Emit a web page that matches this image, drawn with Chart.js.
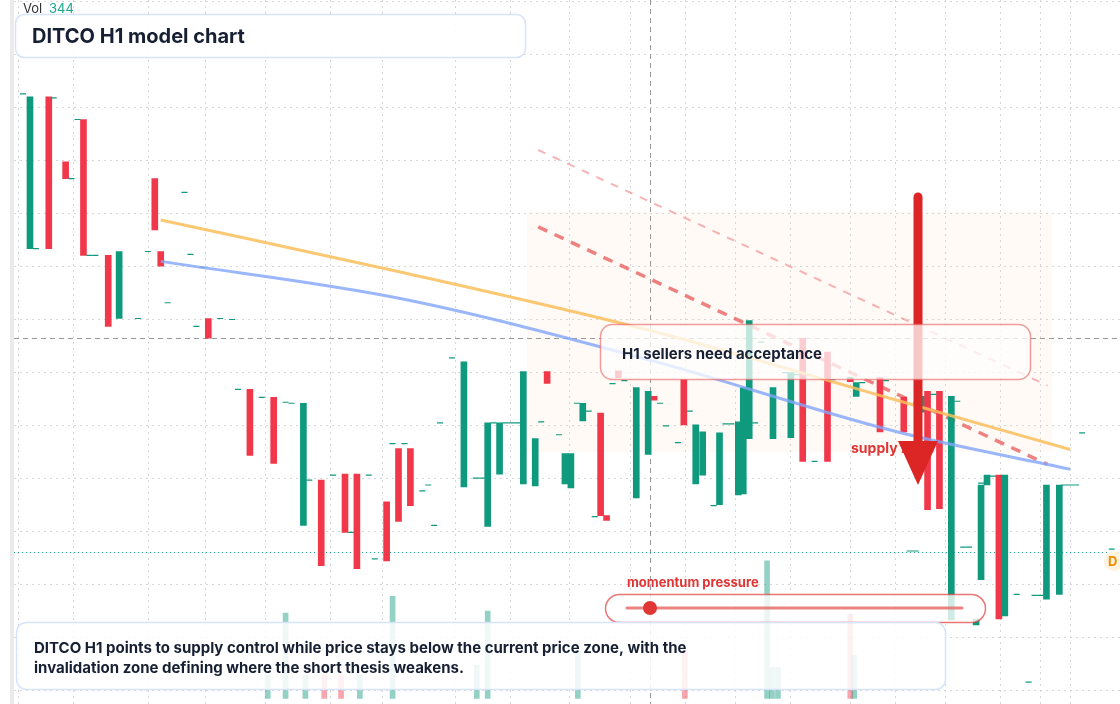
<!DOCTYPE html>
<html><head><meta charset="utf-8">
<script src="https://cdn.jsdelivr.net/npm/chart.js@4.4.0/dist/chart.umd.min.js"></script>
<style>html,body{margin:0;padding:0;background:#fff;overflow:hidden}#w{position:relative;width:1120px;height:704px}</style>
</head><body><div id="w"><canvas id="c" width="1120" height="704"></canvas></div>
<script>
// candle positions (x in bar slots, open/close in chart units, top-down)
const candleX = [25,44,61,79,104,115,151,157,205,247,271,301,319,343,355,385,397,409,463,487,499,523,535,547,565,571,583,601,607,619,637,649,655,685,697,704,721,740,745,751,775,793,805,830,853,859,883,907,925,931,943,955,980,985,991,1003,1009,1051,1064];
const candleOpen = [247,93,159,116,254,318,176,250,318,390,398,528,482,476,476,504,450,450,489,529,476,486,488,372,486,490,422,414,518,371,500,456,397,380,486,477,507,497,496,440,440,439,338,352,378,397,378,398,413,392,392,624,629,583,487,477,620,603,598];
const candleClose = [93,247,176,254,326,250,228,265,338,457,465,404,569,535,572,564,524,508,362,424,424,372,440,384,455,455,404,518,523,378,388,392,401,426,426,433,434,423,388,320,388,373,463,463,382,383,433,433,397,512,511,397,623,487,477,623,477,487,487];
const tickX = [18,31,49,67,73,85,91,134,144,164,181,187,193,199,217,229,235,259,283,289,307,331,349,367,373,391,403,421,427,433,439,451,475,481,493,505,511,517,541,559,577,589,595,613,625,661,667,679,691,715,727,733,757,763,787,799,811,817,835,853,865,889,913,919,937,961,967,973,985,997,1021,1039,1045,1033,1069,1075,1081,1087,1117];
const tickY = [90,247,94,176,116,254,254,318,250,302,190,253,326,266,318,319,390,398,403,404,482,477,535,477,562,445,445,493,487,528,424,358,480,480,424,424,424,424,423,436,404,412,519,384,381,404,427,444,412,508,425,425,424,342,373,375,375,463,380,378,383,381,554,554,395,402,550,550,485,478,598,599,599,687,487,487,487,434,552];
const volX = [265,283,303,322,339,358,391,476,487,578,686,769,774,780,853,857];
const volTop = [680,617,680,680,680,680,600,670,615,655,655,564,672,672,618,660];
const volUp = [1,1,1,0,0,1,1,1,1,1,0,1,1,1,0,1];
const orangeLine = [[157,218],[400,271],[650,330],[900,401],[1075,451]];
const blueLine = [[157,260],[400,298],[650,360],[900,433],[1075,471]];
const dashA = [[538,147],[1052,386]];
const dashB = [[538,225],[1052,466]];

const GREEN='#0f9a7e', RED='#f0384a';
const candles = candleX.map((x,i)=>({x, y:[candleOpen[i],candleClose[i]]}));
const candleCol = candleX.map((x,i)=> candleClose[i] < candleOpen[i] ? GREEN : RED);
const vols = volX.map((x,i)=>({x, y:[volTop[i],704]}));
const xy = a => a.map(p=>({x:p[0],y:p[1]}));

function rr(ctx,x,y,w,h,r){ctx.beginPath();ctx.roundRect(x,y,w,h,r);}
const bg = {id:'bg', beforeDatasetsDraw(ch){
  const c=ch.ctx; c.save();
  c.fillStyle='#ebebeb'; c.fillRect(10,0,4,704);
  c.fillStyle='rgba(255,236,220,0.25)'; c.fillRect(527,212,525,240);
  c.strokeStyle='#d6d6d6'; c.setLineDash([2,4]); c.lineWidth=1;
  [18,73,148,205,265,330,382,455,510,569,630,685,735,790,850,895,945,1000,1040,1070].forEach(x=>{c.beginPath();c.moveTo(x+.5,0);c.lineTo(x+.5,704);c.stroke();});
  for(let y=1;y<704;y+=53){c.beginPath();c.moveTo(14,y+.5);c.lineTo(1120,y+.5);c.stroke();}
  c.strokeStyle='#999'; c.setLineDash([5,4]);
  c.beginPath();c.moveTo(14,338.5);c.lineTo(1120,338.5);c.stroke();
  c.beginPath();c.moveTo(650.5,0);c.lineTo(650.5,704);c.stroke();
  c.strokeStyle='#18a890'; c.setLineDash([1,3]);
  c.beginPath();c.moveTo(14,552.5);c.lineTo(1120,552.5);c.stroke();
  c.restore();
}, afterDatasetsDraw(ch){
  const c=ch.ctx; c.save(); c.setLineDash([]);
  c.font='bold 14px Inter, "DejaVu Sans", sans-serif'; c.fillStyle='#e03636';
  c.fillText('supply zone',851,453);
  // arrow
  c.strokeStyle='#dc2626'; c.lineWidth=9; c.lineCap='round';
  c.beginPath();c.moveTo(918,197);c.lineTo(918,445);c.stroke();
  c.fillStyle='#dc2626'; c.beginPath();c.moveTo(898,441);c.lineTo(938,441);c.lineTo(918,485);c.closePath();c.fill();
  // title box
  c.lineWidth=1.5; c.strokeStyle='#d6e4fb'; c.fillStyle='rgba(255,255,255,0.92)';
  rr(c,15.5,14.5,510,43,9); c.fill(); c.stroke();
  c.fillStyle='#172033'; c.font='bold 20px Inter, "DejaVu Sans", sans-serif'; c.fillText('DITCO H1 model chart',32,43);
  c.font='13px Inter, "DejaVu Sans", sans-serif'; c.fillStyle='#333'; c.fillText('Vol',23,13); c.fillStyle='#18a890'; c.fillText('344',49,13);
  // sellers box
  c.strokeStyle='rgba(232,90,90,0.6)'; c.fillStyle='rgba(255,255,255,0.75)';
  rr(c,600.5,324.5,430,55,12); c.fill(); c.stroke();
  c.fillStyle='#172033'; c.font='bold 15px Inter, "DejaVu Sans", sans-serif'; c.fillText('H1 sellers need acceptance',622,359);
  // momentum
  c.fillStyle='#e03636'; c.font='bold 13px Inter, "DejaVu Sans", sans-serif'; c.fillText('momentum pressure',627,587);
  c.strokeStyle='rgba(224,60,60,0.7)'; c.fillStyle='rgba(255,255,255,0.8)';
  rr(c,605.5,594.5,380,28,14); c.fill(); c.stroke();
  c.strokeStyle='rgba(230,100,100,0.8)'; c.lineWidth=3; c.beginPath();c.moveTo(627,608);c.lineTo(962,608);c.stroke();
  c.fillStyle='#e03636'; c.beginPath();c.arc(650,608,7,0,7);c.fill();
  // bottom box
  c.lineWidth=1.5; c.strokeStyle='#d6e4fb'; c.fillStyle='rgba(255,255,255,0.85)';
  rr(c,16.5,622.5,929,67,10); c.fill(); c.stroke();
  c.fillStyle='#172033'; c.font='bold 15px Inter, "DejaVu Sans", sans-serif';
  c.fillText('DITCO H1 points to supply control while price stays below the current price zone, with the',34,653);
  c.fillText('invalidation zone defining where the short thesis weakens.',34,673);
  // D badge
  c.fillStyle='#fff3e0'; c.beginPath();c.arc(1114,561,10,0,7);c.fill();
  c.fillStyle='#f08c00'; c.font='bold 13px Inter, "DejaVu Sans", sans-serif'; c.fillText('D',1108,566);
  c.restore();
}};

new Chart(document.getElementById('c'),{
  type:'bar',
  data:{datasets:[
    {type:'bar',data:vols,backgroundColor:volUp.map(u=>u?'rgba(15,154,126,0.45)':'rgba(240,56,74,0.45)'),barThickness:5,grouped:false,order:5},
    {type:'line',data:xy(dashA),borderColor:'rgba(240,130,130,0.6)',borderWidth:2,borderDash:[8,8],pointRadius:0,order:4},
    {type:'line',data:xy(dashB),borderColor:'rgba(232,90,90,0.75)',borderWidth:3.5,borderDash:[10,8],pointRadius:0,order:4},
    {type:'bar',data:candles,backgroundColor:candleCol,barThickness:6,grouped:false,order:3},
    {type:'scatter',data:tickX.map((x,i)=>({x,y:tickY[i]})),pointStyle:'line',pointRadius:3,borderColor:GREEN,borderWidth:1.2,order:2},
    {type:'line',data:xy(orangeLine),borderColor:'rgba(250,190,90,0.85)',borderWidth:3,cubicInterpolationMode:'monotone',pointRadius:0,order:1},
    {type:'line',data:xy(blueLine),borderColor:'rgba(130,165,250,0.8)',borderWidth:3,cubicInterpolationMode:'monotone',pointRadius:0,order:1}
  ]},
  options:{responsive:false,animation:false,layout:{padding:0},
    plugins:{legend:{display:false},tooltip:{enabled:false}},
    scales:{x:{type:'linear',min:0,max:1120,offset:false,display:false,grid:{offset:false}},y:{min:0,max:704,reverse:true,display:false}}},
  plugins:[bg]
});
</script></body></html>
